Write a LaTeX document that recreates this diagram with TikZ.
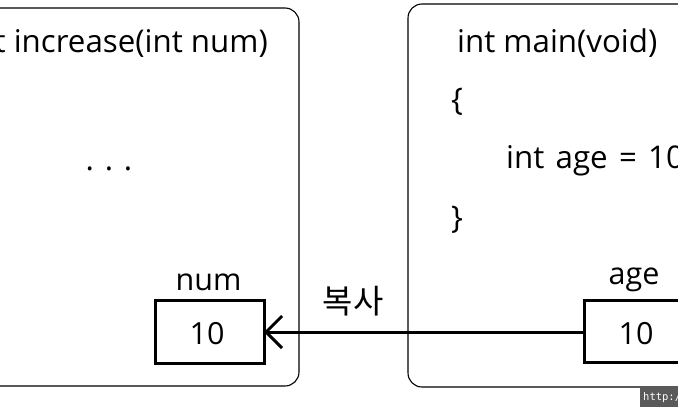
\documentclass[tikz,border=0pt]{standalone}
\usepackage{fontspec}
\setmainfont{Open Sans}
\newfontfamily\krfont{Noto Sans CJK KR}
\newfontfamily\wmfont{DejaVu Sans Mono}
\usetikzlibrary{arrows.meta}
\definecolor{wmgray}{HTML}{5A5A5A}
\tikzset{
  frame/.style={draw=black, line width=1.1pt, rounded corners=14pt},
  varbox/.style={draw=black, line width=3pt},
  code/.style={inner sep=0pt, font=\fontsize{31.3}{36}\selectfont},
  lbl/.style={inner sep=0pt, font=\fontsize{30.5}{36}\selectfont},
}
\begin{document}
\begin{tikzpicture}[x=1pt,y=-1pt]
\useasboundingbox (0,0) rectangle (678,407);
\begin{scope}
\clip (0,0) rectangle (678,407);
% frames
\draw[frame] (-40,8) rectangle (299,386);
\draw[frame] (408,4) rectangle (720,387);
% left code
\node[code, anchor=base east] (ltitle) at (268,52) {int increase(int num)};
\node[code, anchor=base] (dots) at (109,170) {. . .};
% right code
\node[code, anchor=base west] (rtitle) at (457,52) {int main(void)};
\node[code, anchor=base west] (lbrace) at (451,110) {\{};
\node[code, anchor=base west] (decl) at (506,168) {\spaceskip=0.36em int age = 10;};
\node[code, anchor=base west] (rbrace) at (451,228) {\}};
% variable boxes
\draw[varbox] (155,300) rectangle (264,363);
\coordinate (numR) at (264,332);
\node[lbl, anchor=base] (numval) at (207,344) {10};
\node[lbl, anchor=base] (numlbl) at (208.5,290) {num};
\draw[varbox] (584,300) rectangle (720,362);
\coordinate (ageL) at (584,332);
\node[lbl, anchor=base] (ageval) at (636,344) {10};
\node[lbl, anchor=base] (agelbl) at (634,284) {age};
% arrow
\draw[line width=3pt, -{Straight Barb[length=16pt, width=32pt, line width=3pt]}] (ageL) -- (numR);
\node[inner sep=0pt, font=\krfont\fontsize{33}{38}\selectfont] (copy) at (353,301) {복사};
% watermark
\fill[wmgray] (640,388) rectangle (680,407);
\node[inner sep=0pt, anchor=west, text=white, font=\wmfont\fontsize{10.5}{13}\selectfont] (wm) at (643,398) {http://};
\end{scope}
\end{tikzpicture}
\end{document}
